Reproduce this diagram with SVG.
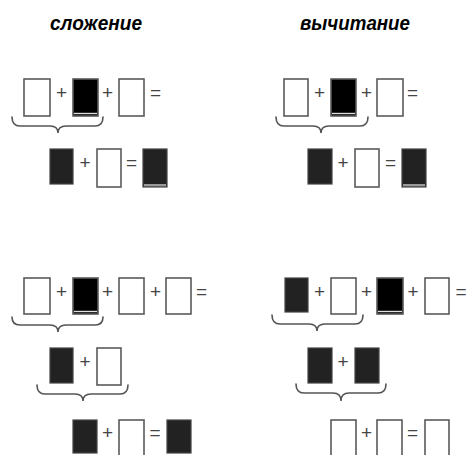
<svg xmlns="http://www.w3.org/2000/svg" width="466" height="455" viewBox="0 0 466 455">
  <style>
    .w { fill: #ffffff; stroke: #5a5a5a; stroke-width: 1.6; }
    .b { fill: #000000; stroke: #5a5a5a; stroke-width: 1.6; }
    .d { fill: #222222; stroke: #444444; stroke-width: 1.2; }
    .hl { stroke: #e0e0e0; stroke-width: 1.4; }
    .gs { fill: #999999; }
    .op { font-family: "Liberation Sans", Arial, sans-serif; font-size: 19px; fill: #444444; text-anchor: middle; }
    .title { font-family: "Liberation Sans", Arial, sans-serif; font-size: 21px; font-weight: bold; font-style: italic; fill: #000000; }
    .brace { fill: none; stroke: #555555; stroke-width: 1.6; stroke-linecap: round; }
  </style>

  <!-- column headings -->
  <g id="title-add"><text class="title" x="50" y="30" textLength="92" lengthAdjust="spacingAndGlyphs">сложение</text></g>
  <g id="title-sub"><text class="title" x="300" y="30" textLength="110" lengthAdjust="spacingAndGlyphs">вычитание</text></g>

  <!-- upper left: addition, three terms -->
  <g id="add1-row1">
    <rect class="w" x="24" y="79" width="26" height="37"/>
    <text class="op" x="61.5" y="99">+</text>
    <rect class="b" x="73" y="79" width="25" height="37"/>
    <line class="hl" x1="74" y1="113.5" x2="97" y2="113.5"/>
    <text class="op" x="107.5" y="99">+</text>
    <rect class="w" x="119" y="79" width="25" height="37"/>
    <text class="op" x="155.5" y="99">=</text>
  </g>
  <g id="add1-row2">
    <rect class="d" x="50" y="149" width="23" height="35"/>
    <text class="op" x="85" y="169">+</text>
    <rect class="w" x="97" y="149" width="24" height="38"/>
    <text class="op" x="131.5" y="169">=</text>
    <rect class="d" x="143" y="149" width="24" height="38"/>
    <rect class="gs" x="144" y="184" width="22" height="2.4"/>
  </g>

  <!-- upper right: subtraction, three terms -->
  <g id="sub1-row1">
    <rect class="w" x="284" y="79" width="24" height="37"/>
    <text class="op" x="319.5" y="99">+</text>
    <rect class="b" x="331" y="79" width="25" height="37"/>
    <line class="hl" x1="332" y1="113.5" x2="355" y2="113.5"/>
    <text class="op" x="366.5" y="99">+</text>
    <rect class="w" x="377" y="79" width="26" height="37"/>
    <text class="op" x="412.5" y="99">=</text>
  </g>
  <g id="sub1-row2">
    <rect class="d" x="308" y="149" width="24" height="35"/>
    <text class="op" x="343" y="169">+</text>
    <rect class="w" x="355" y="149" width="24" height="38"/>
    <text class="op" x="390.5" y="169">=</text>
    <rect class="d" x="402" y="149" width="24" height="38"/>
    <rect class="gs" x="403" y="184" width="22" height="2.4"/>
  </g>

  <!-- lower left: addition, four terms -->
  <g id="add2-row1">
    <rect class="w" x="24" y="278" width="26" height="36"/>
    <text class="op" x="61.5" y="298">+</text>
    <rect class="b" x="73" y="278" width="25" height="36"/>
    <line class="hl" x1="74" y1="311.5" x2="97" y2="311.5"/>
    <text class="op" x="107.5" y="298">+</text>
    <rect class="w" x="119" y="278" width="25" height="36"/>
    <text class="op" x="155.5" y="298">+</text>
    <rect class="w" x="166" y="278" width="25" height="36"/>
    <text class="op" x="201.5" y="298">=</text>
  </g>
  <g id="add2-row2">
    <rect class="d" x="50" y="348" width="23" height="35"/>
    <text class="op" x="85" y="368">+</text>
    <rect class="w" x="97" y="348" width="24" height="37"/>
  </g>
  <g id="add2-row3">
    <rect class="d" x="73" y="420" width="24" height="33"/>
    <text class="op" x="107.5" y="439">+</text>
    <rect class="w" x="119" y="420" width="25" height="36"/>
    <text class="op" x="155" y="439">=</text>
    <rect class="d" x="167" y="420" width="24" height="33"/>
  </g>

  <!-- lower right: subtraction, four terms -->
  <g id="sub2-row1">
    <rect class="d" x="285" y="278" width="23" height="34"/>
    <text class="op" x="319.5" y="298">+</text>
    <rect class="w" x="331" y="278" width="25" height="36"/>
    <text class="op" x="366.5" y="298">+</text>
    <rect class="b" x="377" y="278" width="26" height="36"/>
    <line class="hl" x1="378" y1="311.5" x2="402" y2="311.5"/>
    <text class="op" x="413" y="298">+</text>
    <rect class="w" x="425" y="278" width="24" height="36"/>
    <text class="op" x="461" y="298">=</text>
  </g>
  <g id="sub2-row2">
    <rect class="d" x="308" y="348" width="24" height="35"/>
    <text class="op" x="343" y="368">+</text>
    <rect class="d" x="355" y="348" width="24" height="35"/>
  </g>
  <g id="sub2-row3">
    <rect class="w" x="331" y="420" width="25" height="36"/>
    <text class="op" x="366.5" y="439">+</text>
    <rect class="w" x="377" y="420" width="25" height="36"/>
    <text class="op" x="412.5" y="439">=</text>
    <rect class="w" x="425" y="420" width="24" height="36"/>
  </g>

  <!-- grouping braces -->
  <g id="braces">
    <path class="brace" d="M12,117 Q12,126 20,126 L50,126 Q58,126 58,133 Q58,126 66,126 L95,126 Q103,126 103,117"/>
    <path class="brace" d="M276,117 Q276,126 284,126 L313,126 Q321,126 321,133 Q321,126 329,126 L360,126 Q368,126 368,117"/>
    <path class="brace" d="M12,317 Q12,325 20,325 L50,325 Q58,325 58,332 Q58,325 66,325 L95,325 Q103,325 103,317"/>
    <path class="brace" d="M37,385 Q37,394 45,394 L75,394 Q83,394 83,401 Q83,394 91,394 L120,394 Q128,394 128,385"/>
    <path class="brace" d="M272,315 Q272,324 280,324 L309,324 Q317,324 317,331 Q317,324 325,324 L355,324 Q363,324 363,315"/>
    <path class="brace" d="M296,384 Q296,393 304,393 L333,393 Q341,393 341,401 Q341,393 349,393 L378,393 Q386,393 386,384"/>
  </g>
</svg>
